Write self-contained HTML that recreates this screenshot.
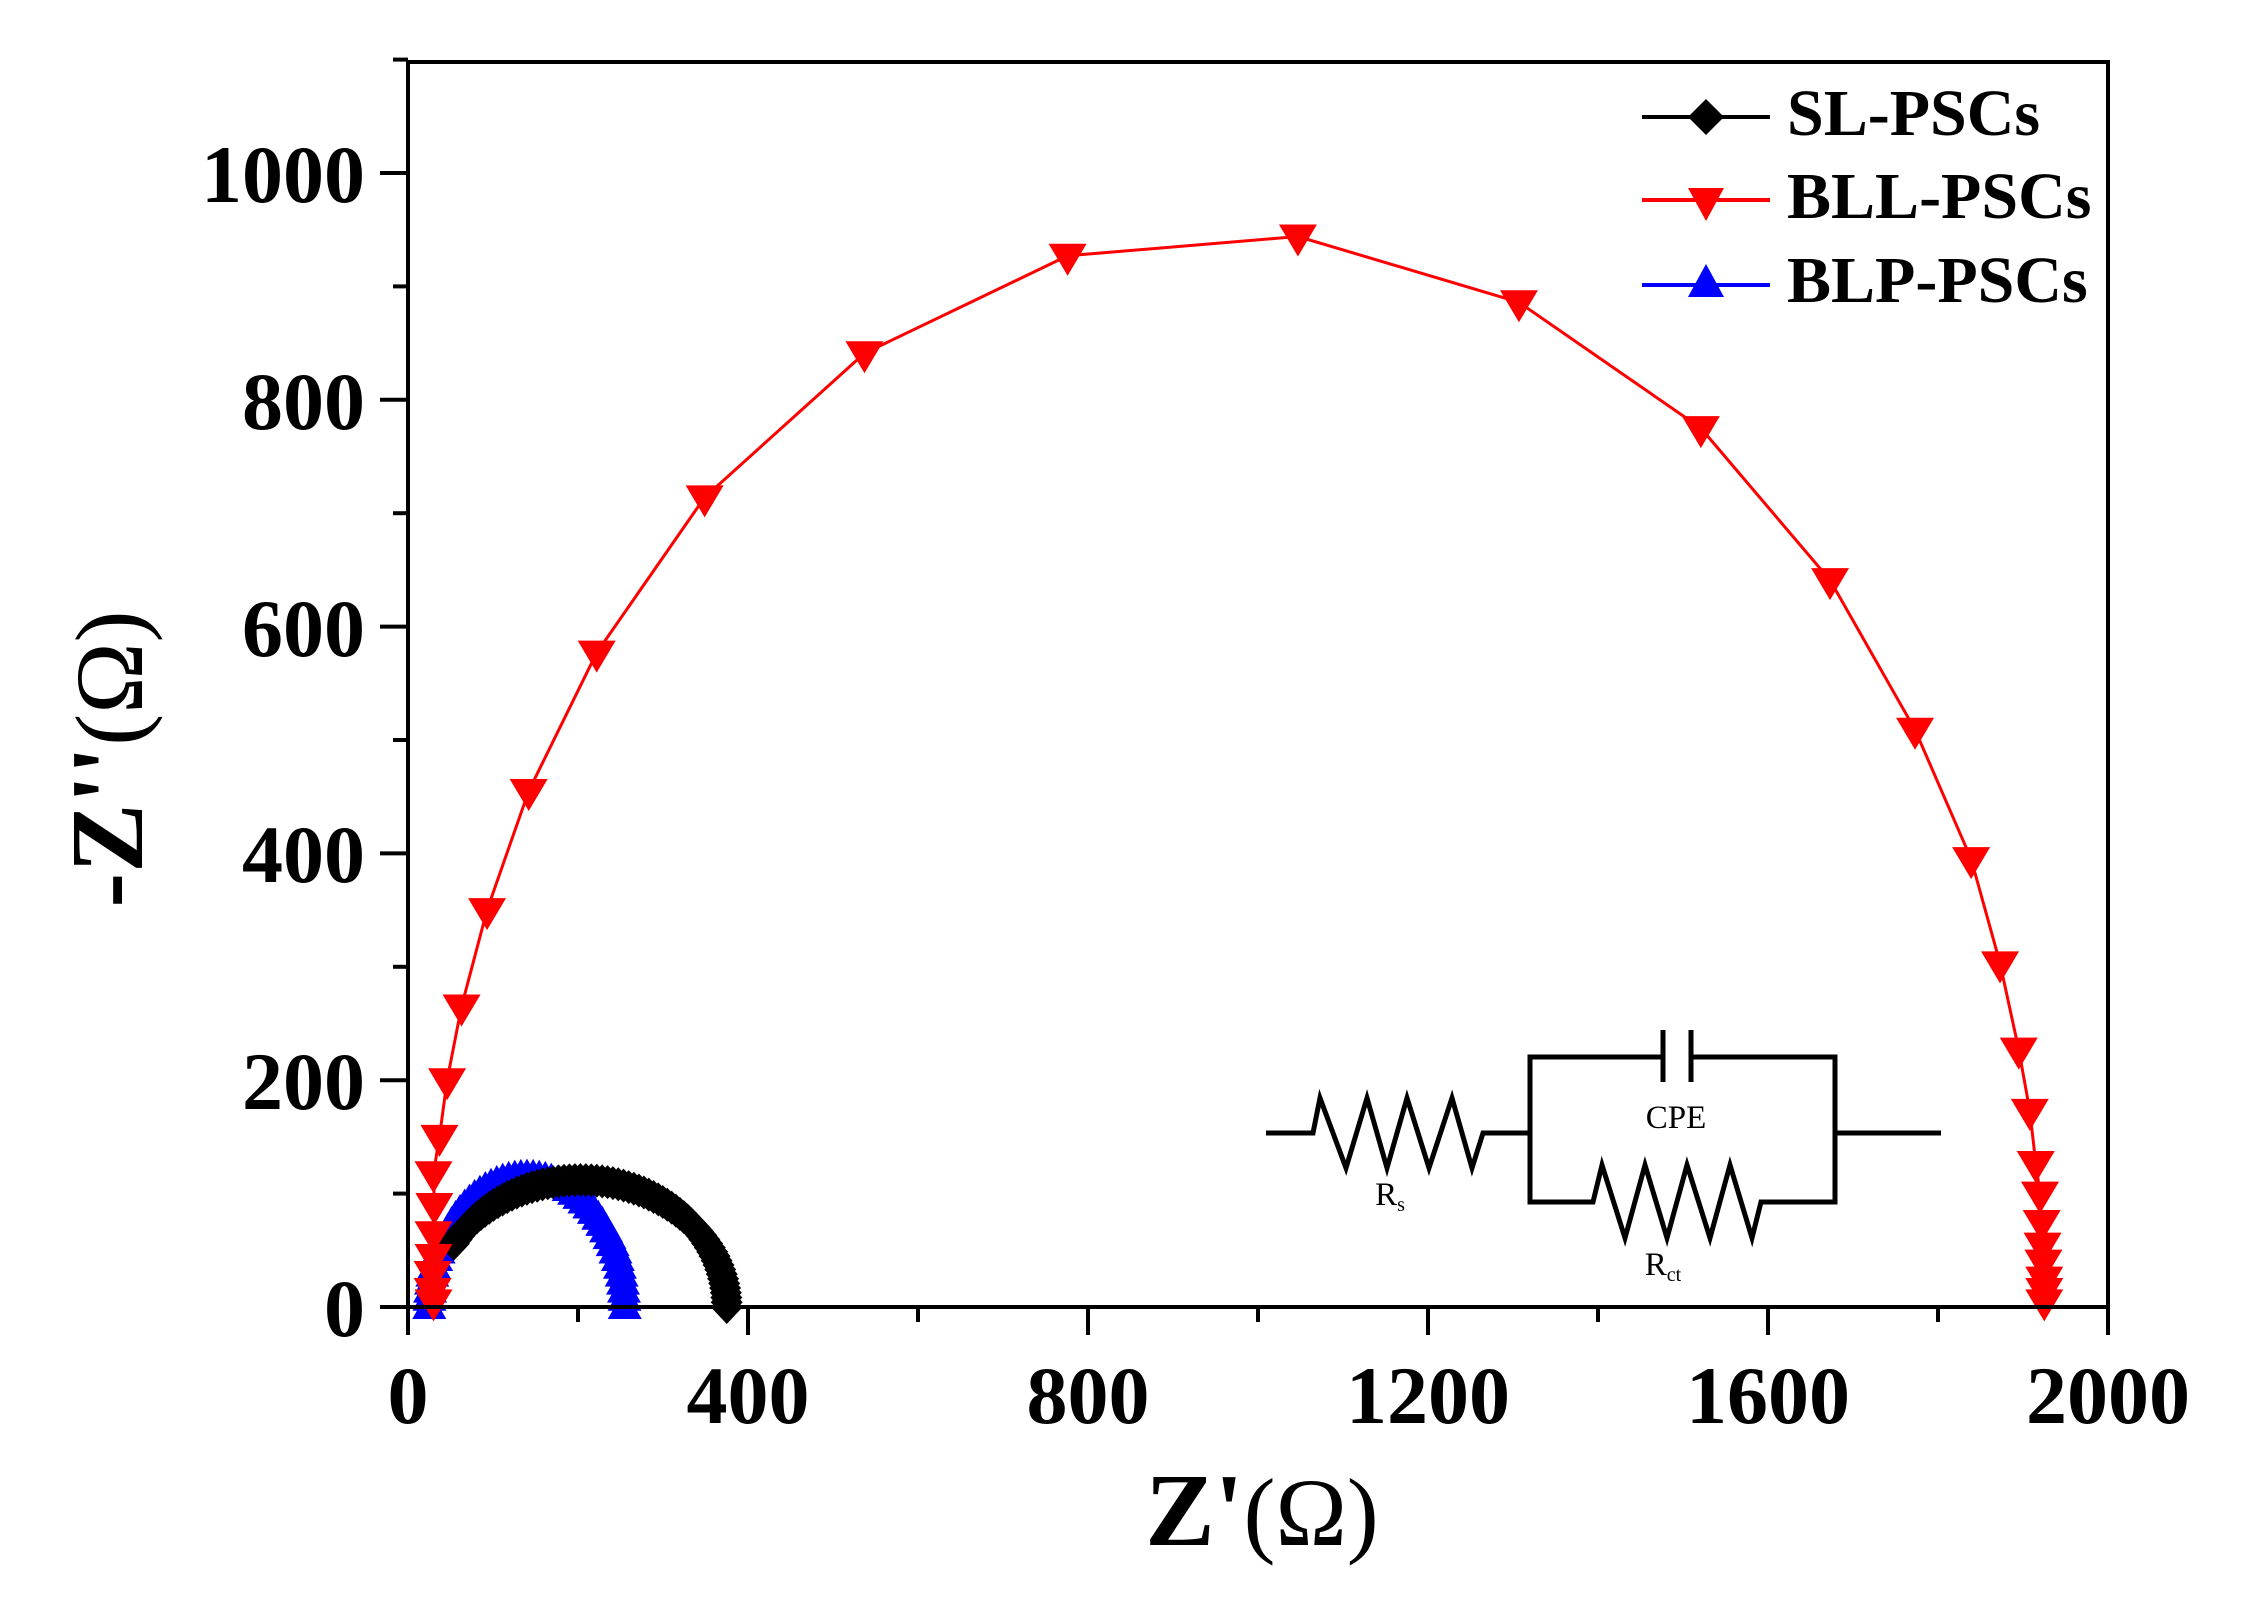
<!DOCTYPE html>
<html><head><meta charset="utf-8"><style>
html,body{margin:0;padding:0;background:#fff;}
svg{display:block;}
</style></head><body>
<svg id="s" width="2255" height="1612" viewBox="0 0 2255 1612" xmlns="http://www.w3.org/2000/svg">
<rect width="2255" height="1612" fill="#fff"/>
<g id="data"></g>
<g stroke="#000" stroke-width="4" fill="none">
<rect x="408" y="62" width="1700" height="1245"/>
</g>
<g id="ticks" stroke="#000" stroke-width="4"></g>
<g font-family="Liberation Serif, serif" font-weight="bold" font-size="82" fill="#000">
<g text-anchor="end">
<text x="365" y="1336">0</text>
<text x="365" y="1109">200</text>
<text x="365" y="882">400</text>
<text x="365" y="656">600</text>
<text x="365" y="429">800</text>
<text x="365" y="202">1000</text>
</g>
<g text-anchor="middle">
<text x="408" y="1423">0</text>
<text x="748" y="1423">400</text>
<text x="1088" y="1423">800</text>
<text x="1428" y="1423">1200</text>
<text x="1768" y="1423">1600</text>
<text x="2108" y="1423">2000</text>
</g>
</g>
<text x="1262" y="1545" text-anchor="middle" font-family="Liberation Serif, serif" font-size="96" fill="#000"><tspan font-weight="bold" font-size="104">Z'</tspan>(Ω)</text>
<text transform="translate(142,759) rotate(-90)" text-anchor="middle" font-family="Liberation Serif, serif" font-size="96" fill="#000"><tspan font-weight="bold" font-size="104">-Z''</tspan>(Ω)</text>
<g stroke-width="4">
<line x1="1642" y1="117" x2="1770" y2="117" stroke="#000"/>
<line x1="1642" y1="200" x2="1770" y2="200" stroke="#f00"/>
<line x1="1642" y1="285" x2="1770" y2="285" stroke="#00f"/>
</g>
<polygon points="1706,99 1724,117 1706,135 1688,117" fill="#000"/>
<polygon points="1688,188 1724,188 1706,221" fill="#f00"/>
<polygon points="1706,264 1724,297 1688,297" fill="#00f"/>
<g font-family="Liberation Serif, serif" font-weight="bold" font-size="66" fill="#000">
<text x="1787" y="135">SL-PSCs</text>
<text x="1787" y="218">BLL-PSCs</text>
<text x="1787" y="302">BLP-PSCs</text>
</g>
<g stroke="#000" stroke-width="5" fill="none" stroke-linejoin="miter">
<polyline points="1266,1133 1313,1133 1320,1098 1346,1168 1367,1098 1387,1168 1407,1098 1429,1168 1452,1098 1472,1168 1483,1133 1530,1133"/>
<polyline points="1663,1057 1530,1057 1530,1202 1593,1202 1602,1165 1625,1238 1645,1165 1667,1238 1687,1165 1710,1238 1730,1165 1752,1238 1761,1202 1835,1202 1835,1057 1691,1057"/>
<line x1="1663" y1="1030" x2="1663" y2="1082"/>
<line x1="1691" y1="1030" x2="1691" y2="1082"/>
<line x1="1835" y1="1133" x2="1941" y2="1133"/>
</g>
<g font-family="Liberation Serif, serif" font-size="33" fill="#000" text-anchor="middle">
<text x="1676" y="1128">CPE</text>
<text x="1390" y="1205">R<tspan font-size="20" dy="6">s</tspan></text>
<text x="1663" y="1275">R<tspan font-size="20" dy="6">ct</tspan></text>
</g>
<script>
(function(){
var NS="http://www.w3.org/2000/svg";
function X(z){return 408+0.85*z;}function Y(v){return 1307-1.134*v;}
var tk=document.getElementById('ticks'),d=document.getElementById('data');
function el(p,n,a){var e=document.createElementNS(NS,n);for(var k in a)e.setAttribute(k,a[k]);p.appendChild(e);return e;}
for(var v=0;v<=1100;v+=100){var L=(v%200==0&&v<=1000)?28:15;el(tk,'line',{x1:408-L,y1:Y(v),x2:408,y2:Y(v)});}
for(var z=0;z<=2000;z+=200){var L=(z%400==0)?28:15;el(tk,'line',{x1:X(z),y1:1307,x2:X(z),y2:1307+L});}
var b=[];for(var i=0;i<=50;i++){var t=Math.PI*(1-i/50);b.push([140+115*Math.cos(t),115*Math.sin(t)]);}
el(d,'polyline',{points:b.map(function(p){return X(p[0])+','+Y(p[1]);}).join(' '),stroke:'#00f','stroke-width':3,fill:'none'});
b.forEach(function(p){var x=X(p[0]),y=Y(p[1]);el(d,'polygon',{points:(x)+','+(y-18)+' '+(x+17)+','+(y+12)+' '+(x-17)+','+(y+12),fill:'#00f'});});
var k=[];for(var i=0;i<=70;i++){var t=2.62*(1-i/70);k.push([203+172*Math.cos(t),112*Math.sin(t)]);}
el(d,'polyline',{points:k.map(function(p){return X(p[0])+','+Y(p[1]);}).join(' '),stroke:'#000','stroke-width':3,fill:'none'});
k.forEach(function(p){var x=X(p[0]),y=Y(p[1]);el(d,'polygon',{points:x+','+(y-17)+' '+(x+16)+','+y+' '+x+','+(y+17)+' '+(x-16)+','+y,fill:'#000'});});
var r=[[30,5],[29,15],[29,30],[30,45],[30,65],[31,90],[30,118],[37,150],[46,200],[63,265],[93,350],[142,455],[222,577],[349,714],[537,841],[776,927],[1047,944],[1307,886],[1521,775],[1673,641],[1773,509],[1839,395],[1873,303],[1895,227],[1908,173],[1915,127],[1920,100],[1922,75],[1923,55],[1924,40],[1925,25],[1925,15],[1925,5]];
el(d,'polyline',{points:r.map(function(p){return X(p[0])+','+Y(p[1]);}).join(' '),stroke:'#f00','stroke-width':3,fill:'none'});
r.forEach(function(p){var x=X(p[0]),y=Y(p[1]);el(d,'polygon',{points:(x-19)+','+(y-12)+' '+(x+19)+','+(y-12)+' '+x+','+(y+20),fill:'#f00'});});
})();
</script>
</svg>
</body></html>
